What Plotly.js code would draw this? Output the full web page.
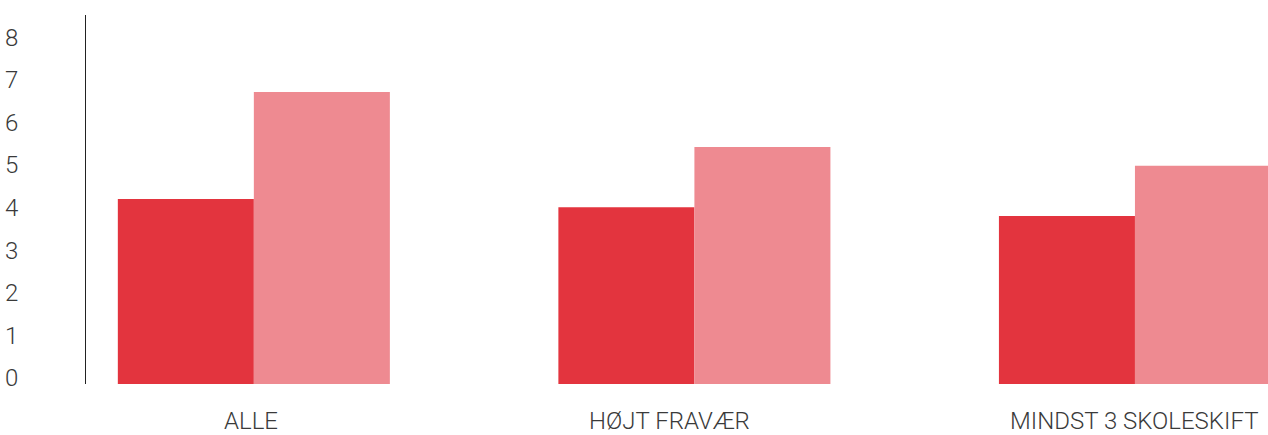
<!DOCTYPE html>
<html><head><meta charset="utf-8">
<script src="https://cdn.plot.ly/plotly-3.0.1.min.js"></script>
<style>html,body{margin:0;padding:0;background:#fff}</style>
</head><body><div id="chart" style="width:1268px;height:435px"></div>
<script>
const categories = ["ALLE", "HØJT FRAVÆR", "MINDST 3 SKOLESKIFT"];
const seriesA = [4.34, 4.15, 3.94];
const seriesB = [6.85, 5.56, 5.12];
const yTicks = [0,1,2,3,4,5,6,7,8];
const labelShift = [-3, -25, -1];
const fontFam = "Roboto, 'DejaVu Sans', sans-serif";
const data = [
  {type:'bar', x:categories, y:seriesA, marker:{color:'#E3343E'}, hoverinfo:'none'},
  {type:'bar', x:categories, y:seriesB, marker:{color:'#EE8A91'}, hoverinfo:'none'}
];
const tf = {family:fontFam, size:24, color:'#3a3a3a', weight:300};
const layout = {
  width:1268, height:435,
  margin:{l:86, r:0, t:15, b:51},
  barmode:'group', bargap:0.3825, bargroupgap:0,
  showlegend:false,
  paper_bgcolor:'#fff', plot_bgcolor:'#fff',
  font:tf,
  xaxis:{type:'category', range:[-0.381, 2.302], showgrid:false, zeroline:false, showline:false,
         ticks:'', showticklabels:false},
  yaxis:{range:[0, 8.66], tickvals:yTicks, ticktext:yTicks.map(String), showgrid:false, zeroline:false,
         showline:true, linecolor:'#222', linewidth:1, ticks:'',
         ticklabelstandoff:62, ticklabelshift:-6, tickfont:tf},
  annotations: categories.map((c,i)=>({
    x:c, y:0, xref:'x', yref:'y', text:c, showarrow:false,
    xanchor:'center', yanchor:'middle', yshift:-37, xshift:labelShift[i], font:tf
  }))
};
Plotly.newPlot('chart', data, layout, {displayModeBar:false, staticPlot:true});
</script></body></html>
